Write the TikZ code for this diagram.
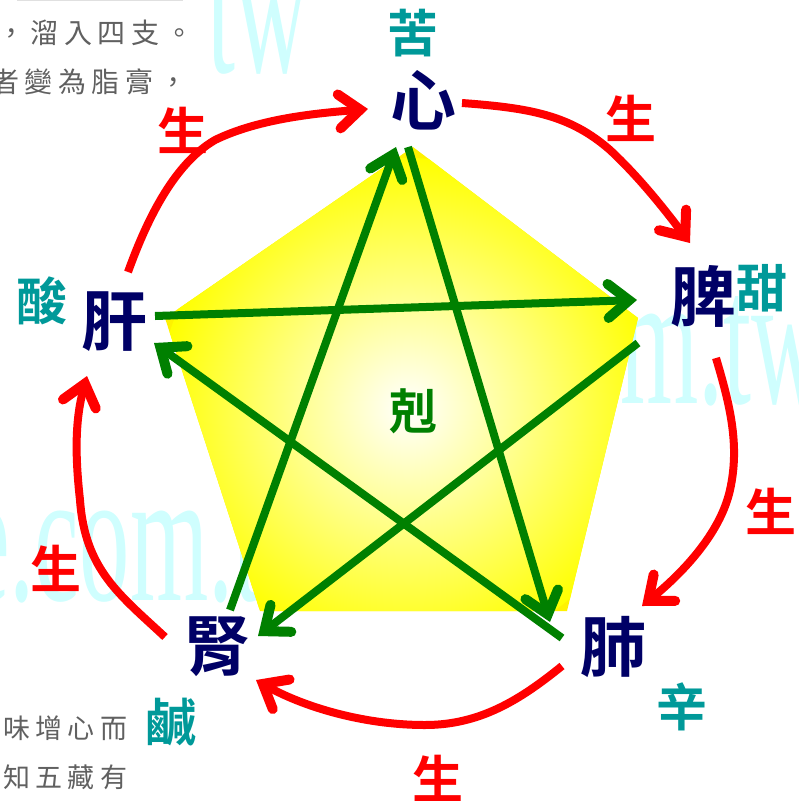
\documentclass[tikz,border=0pt]{standalone}
\usepackage{fontspec}
\usetikzlibrary{arrows.meta,calc}
\newfontfamily\cjkbold[Scale=1]{Noto Sans CJK TC Bold}
\newfontfamily\cjkreg[LetterSpace=20]{Noto Sans CJK TC}
\newfontfamily\wmfont{Liberation Serif}
\definecolor{zang}{HTML}{000066}
\definecolor{taste}{HTML}{009999}
\definecolor{wm}{HTML}{CFFEFE}
\definecolor{scan}{HTML}{606060}
\colorlet{kegreen}{green!50!black}
\tikzset{
  organ/.style={inner sep=0pt,text=zang,font=\cjkbold\fontsize{66}{66}\selectfont},
  flavor/.style={inner sep=0pt,text=taste,font=\cjkbold\fontsize{51}{51}\selectfont},
  sheng/.style={inner sep=0pt,text=red,font=\cjkbold\fontsize{51}{51}\selectfont},
  ke/.style={inner sep=0pt,text=kegreen,font=\cjkbold\fontsize{48}{48}\selectfont},
  scantext/.style={inner sep=0pt,anchor=base west,text=scan,font=\cjkreg\fontsize{28}{28}\selectfont},
  water/.style={inner sep=0pt,anchor=base west,text=wm,font=\wmfont\fontsize{190}{190}\selectfont,xscale=.53},
  barb/.style={-{Straight Barb[length=21pt,width=34pt,line width=10pt,line cap=round,line join=miter]}},
  redarrow/.style={draw=red,line width=8pt,barb},
  greenarrow/.style={draw=kegreen,line width=8pt,barb}
}
\begin{document}
\begin{tikzpicture}[x=1pt,y=-1pt]
\useasboundingbox (0,0) rectangle (799,801);
\begin{scope}
\clip (0,0) rectangle (799,801);
\node[water] (wmA) at (207,72) {tw};
\node[water] (wmB) at (620,403) {m.tw};
\node[water] (wmC) at (-35,600) {e.com.t};
\draw[black!12,line width=1pt] (17,0.5) -- (183,0.5);
\node[scantext] (scanA) at (-3,43) {，溜入四支。};
\node[scantext] (scanB) at (-9,92) {者變為脂膏，};
\node[scantext,font=\cjkreg\fontsize{27}{27}\selectfont] (scanC) at (3,738) {味增心而};
\node[scantext,font=\cjkreg\fontsize{27}{27}\selectfont] (scanD) at (3,787) {知五藏有};
\end{scope}
\begin{scope}
\clip (413,147) -- (638,318) -- (567,611) -- (260,611) -- (165,318) -- cycle;
\fill[yellow] (150,140) rectangle (650,620);
\shade[inner color=white,outer color=yellow] (408,408) circle[radius=250];
\end{scope}
\node[organ] (xin) at (423,100) {心};
\node[organ] (pi) at (703,296) {脾};
\node[organ] (fei) at (613,647) {肺};
\node[organ] (shen) at (217,647) {腎};
\node[organ] (gan) at (114,322) {肝};
\node[flavor] (ku) at (413,33) {苦};
\node[flavor] (tian) at (762,288) {甜};
\node[flavor] (xinw) at (682,707) {辛};
\node[flavor] (xian) at (171,722) {鹹};
\node[flavor] (suan) at (42,301) {酸};
\node[sheng] (s1) at (183,130) {生};
\node[sheng] (s2) at (631,118) {生};
\node[sheng] (s3) at (771,511) {生};
\node[sheng] (s4) at (56,568) {生};
\node[sheng] (s5) at (438,778) {生};
\node[ke] (ke) at (413,411) {剋};
% sheng cycle
\draw[redarrow] ($(gan)+(14,-50)$) .. controls (145,225) and (172,165) .. (215,140) .. controls (260,118) and (320,113) .. ($(xin)+(-55,9)$);
\draw[redarrow] ($(xin)+(39,3)$) .. controls (530,108) and (570,115) .. (610,150) .. controls (640,178) and (665,210) .. ($(pi)+(-13,-53)$);
\draw[redarrow] ($(pi)+(13,62)$) .. controls (730,405) and (740,445) .. (730,490) .. controls (720,535) and (680,575) .. ($(fei)+(29,-41)$);
\draw[redarrow] ($(fei)+(-51,19)$) .. controls (520,700) and (480,725) .. (425,725) .. controls (360,725) and (300,705) .. ($(shen)+(39,33)$);
\draw[redarrow] ($(shen)+(-52,-10)$) .. controls (120,595) and (85,570) .. (80,500) .. controls (75,455) and (75,420) .. ($(gan)+(-27,54)$);
% ke star
\draw[greenarrow] ($(gan)+(41,-6)$) -- ($(pi)+(-66,4)$);
\draw[greenarrow] ($(pi)+(-65,47)$) -- ($(shen)+(41,-11)$);
\draw[greenarrow] ($(shen)+(13,-37)$) -- ($(xin)+(-27,47)$);
\draw[greenarrow] ($(xin)+(-15,47)$) -- ($(fei)+(-63,-25)$);
\draw[greenarrow] ($(fei)+(-51,-9)$) -- ($(gan)+(40,21)$);
\end{tikzpicture}
\end{document}
